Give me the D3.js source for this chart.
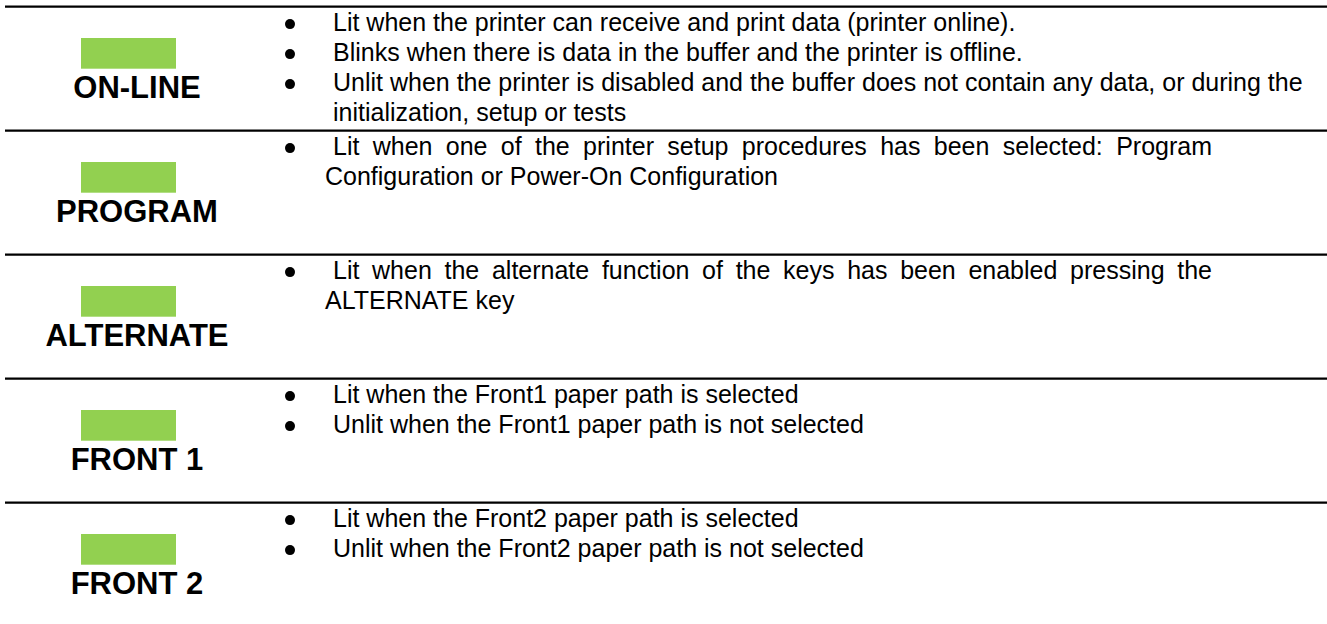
<!DOCTYPE html>
<html><head><meta charset="utf-8">
<script src="https://cdn.jsdelivr.net/npm/d3@7"></script>
<style>html,body{margin:0;padding:0;background:#fff;overflow:hidden} svg{display:block}</style>
</head><body><svg id="c" width="1327" height="624"></svg>
<script>
// ---- data ----
const labels = ["ON-LINE", "PROGRAM", "ALTERNATE", "FRONT 1", "FRONT 2"];
const descriptions = [
  [["Lit when the printer can receive and print data (printer online)."],
   ["Blinks when there is data in the buffer and the printer is offline."],
   ["Unlit when the printer is disabled and the buffer does not contain any data, or during the",
    "initialization, setup or tests"]],
  [["Lit when one of the printer setup procedures has been selected: Program",
    "Configuration or Power-On Configuration"]],
  [["Lit when the alternate function of the keys has been enabled pressing the",
    "ALTERNATE key"]],
  [["Lit when the Front1 paper path is selected"],
   ["Unlit when the Front1 paper path is not selected"]],
  [["Lit when the Front2 paper path is selected"],
   ["Unlit when the Front2 paper path is not selected"]]
];
const justified = [false, true, true, false, false];

// ---- layout ----
const W = 1327, H = 624;
const svg = d3.select("#c");
const rowY = d3.scaleLinear().domain([0, 1]).range([6.7, 130.7]);
const lineY = d3.scaleLinear().domain([0, 1]).range([24.8, 54.8]);
const font = "'Liberation Sans', Arial, Helvetica, sans-serif";
const green = "#92D050";
const bulletX = 290, textX = 333, contXJ = 325, rightJ = 1212;

const rows = svg.selectAll("g.row").data(labels).join("g")
  .attr("class", "row")
  .attr("transform", (d, i) => `translate(0,${rowY(i)})`);

rows.append("line").attr("x1", 5).attr("x2", W).attr("y1", 0).attr("y2", 0)
  .attr("stroke", "#000").attr("stroke-width", 2.3);

rows.append("rect").attr("x", 81).attr("y", 31.3).attr("width", 95).attr("height", 30.7)
  .attr("fill", green);

rows.append("text").attr("x", 137).attr("y", 91.3).attr("text-anchor", "middle")
  .attr("font-family", font).attr("font-weight", "bold").attr("font-size", 31)
  .attr("fill", "#000").text(d => d);

rows.each(function (lab, i) {
  const g = d3.select(this);
  let k = 0;
  descriptions[i].forEach(bullet => {
    g.append("circle").attr("cx", bulletX).attr("cy", lineY(k) - 7.4).attr("r", 5).attr("fill", "#000");
    bullet.forEach((ln, j) => {
      const x0 = j === 0 ? textX : (justified[i] ? contXJ : textX);
      const t = g.append("text").attr("y", lineY(k))
        .attr("font-family", font).attr("font-size", 25).attr("fill", "#000");
      if (justified[i] && j === 0) {
        const words = ln.split(" ");
        const spans = words.map(w => t.append("tspan").text(w));
        const widths = spans.map(s => s.node().getComputedTextLength());
        const total = d3.sum(widths);
        const gap = (rightJ - x0 - total) / (words.length - 1);
        let x = x0;
        spans.forEach((s, m) => { s.attr("x", x); x += widths[m] + gap; });
      } else {
        t.attr("x", x0).text(ln);
      }
      k++;
    });
  });
});
</script></body></html>
